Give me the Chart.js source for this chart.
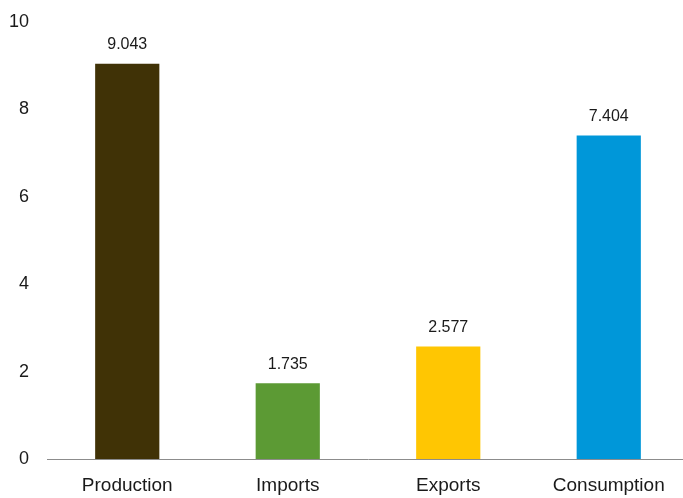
<!DOCTYPE html>
<html lang="en">
<head>
    <meta charset="UTF-8">
    <title>Production, Imports, Exports, Consumption</title>
    <script src="https://cdn.jsdelivr.net/npm/chart.js"></script>
    <style>
        html, body { margin: 0; padding: 0; background: #fff; overflow: hidden; }
        .wrap { position: relative; width: 690px; height: 498px; }
    </style>
</head>
<body>
    <div class="wrap">
        <canvas id="barChart"></canvas>
    </div>

    <script>
        // Données
        const categories = ['Production', 'Imports', 'Exports', 'Consumption'];
        const values = [9.043, 1.735, 2.577, 7.404];
        const barColors = ['#403206', '#5c9a34', '#ffc602', '#0097d9'];
        const yTicks = [0, 2, 4, 6, 8, 10];

        const fontFamily = '"Liberation Sans", Arial, sans-serif';

        // Étiquettes de valeur au-dessus des barres
        const valueLabels = {
            id: 'valueLabels',
            afterDatasetsDraw(chart) {
                const ctx = chart.ctx;
                const meta = chart.getDatasetMeta(0);
                ctx.save();
                ctx.font = '16px ' + fontFamily;
                ctx.fillStyle = '#1a1a1a';
                ctx.textAlign = 'center';
                ctx.textBaseline = 'bottom';
                meta.data.forEach((bar, i) => {
                    ctx.fillText(values[i].toFixed(3), bar.x, bar.y - 11);
                });
                ctx.restore();
            }
        };

        const ctx = document.getElementById('barChart').getContext('2d');
        new Chart(ctx, {
            type: 'bar',
            data: {
                labels: categories,
                datasets: [{
                    data: values,
                    backgroundColor: barColors,
                    barPercentage: 0.4,
                    categoryPercentage: 1.0
                }]
            },
            options: {
                responsive: true,
                maintainAspectRatio: false,
                animation: false,
                layout: { padding: { top: 22, right: 1, left: 0, bottom: 0 } },
                plugins: {
                    legend: { display: false },
                    tooltip: { enabled: false }
                },
                scales: {
                    x: {
                        grid: { display: false, drawTicks: false },
                        border: { display: true, color: '#8c8c8c', width: 1 },
                        ticks: {
                            color: '#1a1a1a',
                            padding: 15,
                            font: { family: fontFamily, size: 19 }
                        },
                        afterFit(scale) { scale.height = 39; }
                    },
                    y: {
                        min: 0,
                        max: 10,
                        grid: { display: false, drawTicks: false },
                        border: { display: false },
                        afterBuildTicks(scale) {
                            scale.ticks = yTicks.map(v => ({ value: v }));
                        },
                        ticks: {
                            color: '#1a1a1a',
                            padding: 18,
                            font: { family: fontFamily, size: 18 }
                        },
                        afterFit(scale) {
                            scale.width = 47;
                            // le padding des étiquettes ne doit pas décaler le haut
                            scale.paddingTop = 0;
                            scale.paddingBottom = 0;
                        }
                    }
                }
            },
            plugins: [valueLabels]
        });
    </script>
</body>
</html>
